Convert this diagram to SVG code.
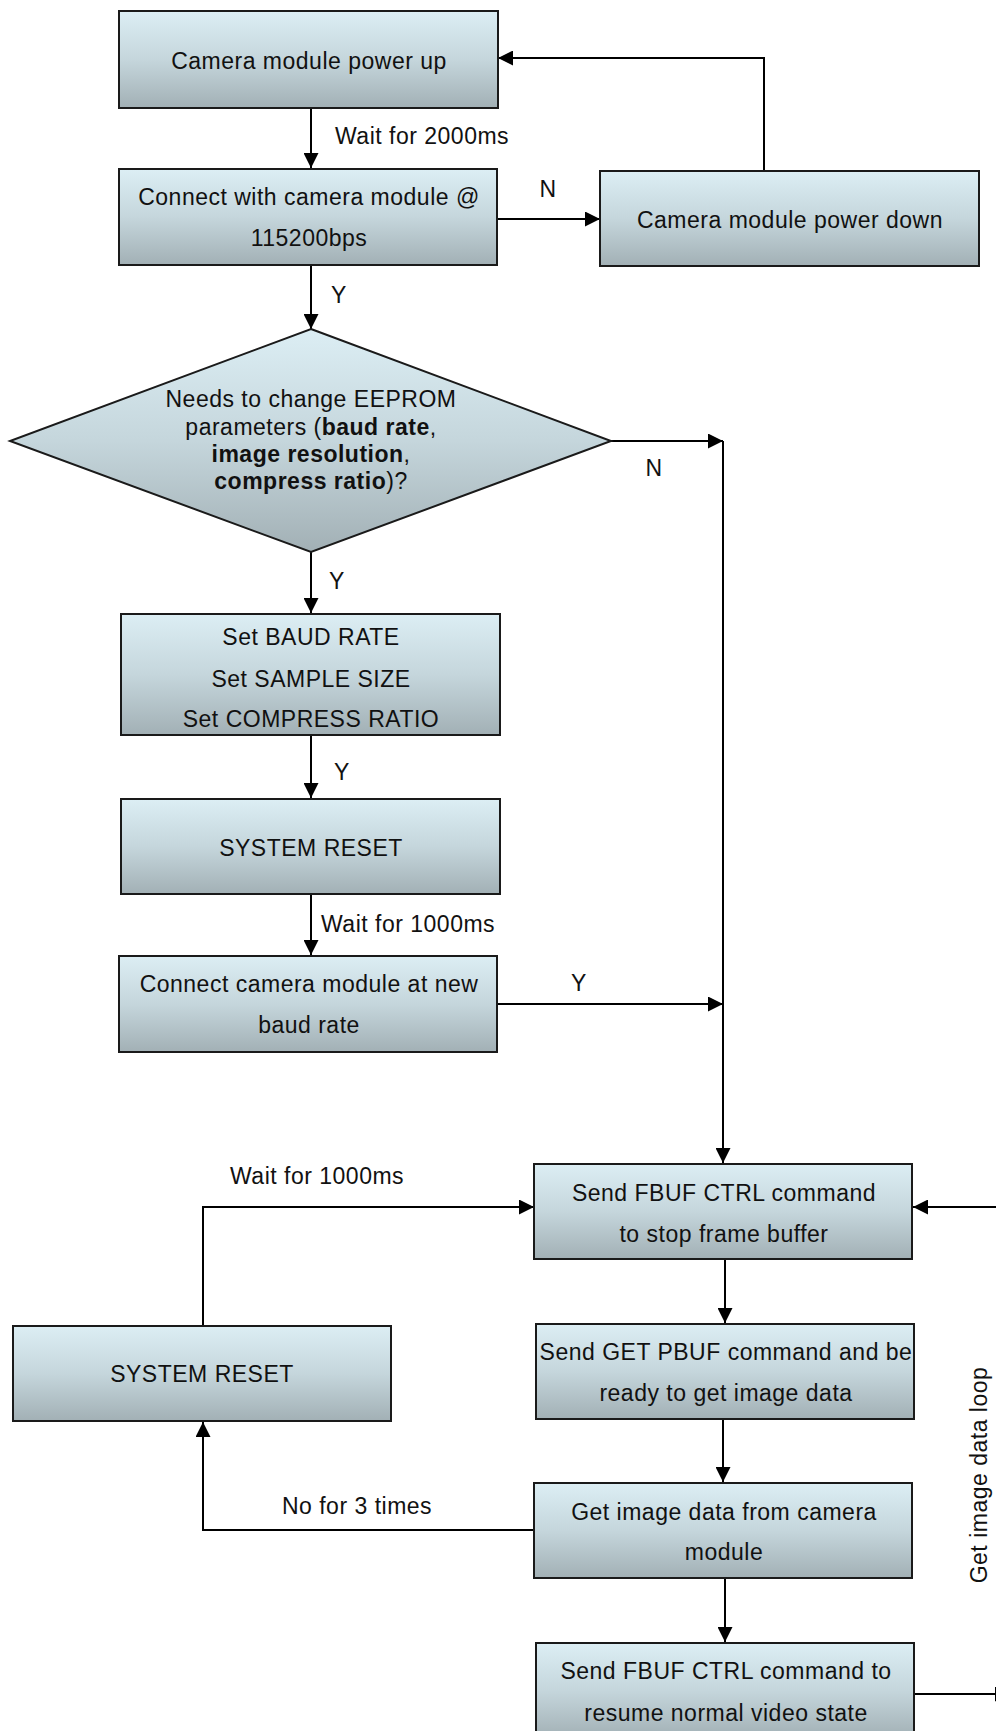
<svg xmlns="http://www.w3.org/2000/svg" width="996" height="1731" viewBox="0 0 996 1731">
<defs>
<linearGradient id="g" x1="0" y1="0" x2="0" y2="1">
<stop offset="0" stop-color="#dceef4"/>
<stop offset="0.5" stop-color="#c5d6dc"/>
<stop offset="1" stop-color="#a2b0b5"/>
</linearGradient>
<marker id="ah" viewBox="0 0 10 10" refX="10" refY="5" markerWidth="15" markerHeight="15" markerUnits="userSpaceOnUse" orient="auto">
<path d="M0,0 L10,5 L0,10 z" fill="#000"/>
</marker>
<style>
.box{fill:url(#g);stroke:#1a1a1a;stroke-width:2}
.t{font-family:"Liberation Sans",Arial,sans-serif;font-size:23px;letter-spacing:0.5px;fill:#111}
.c{text-anchor:middle}
.ln{fill:none;stroke:#000;stroke-width:2}
.arr{marker-end:url(#ah)}
</style>
</defs>
<rect width="996" height="1731" fill="#fff"/>

<g id="connectors">
<path class="ln arr" d="M311,108 V168"/>
<path class="ln arr" d="M497,219 H600"/>
<path class="ln arr" d="M764,171 V58 H498"/>
<path class="ln arr" d="M311,265 V329"/>
<path class="ln arr" d="M611,441 H723"/>
<path class="ln arr" d="M723,441 V1163"/>
<path class="ln arr" d="M311,552 V613"/>
<path class="ln arr" d="M311,735 V798"/>
<path class="ln arr" d="M311,894 V955"/>
<path class="ln arr" d="M497,1004 H723"/>
<path class="ln arr" d="M725,1259 V1323"/>
<path class="ln arr" d="M203,1326 V1207 H534"/>
<path class="ln arr" d="M1000,1207 H913"/>
<path class="ln arr" d="M723,1419 V1482"/>
<path class="ln arr" d="M534,1530 H203 V1422"/>
<path class="ln arr" d="M725,1578 V1642"/>
<path class="ln arr" d="M914,1694 H1010"/>
<text class="t" x="335" y="144">Wait for 2000ms</text>
<text class="t c" x="548" y="197">N</text>
<text class="t c" x="339" y="303">Y</text>
<text class="t c" x="654" y="476">N</text>
<text class="t c" x="337" y="589">Y</text>
<text class="t c" x="342" y="780">Y</text>
<text class="t" x="321" y="932">Wait for 1000ms</text>
<text class="t c" x="579" y="991">Y</text>
<text class="t" x="230" y="1184">Wait for 1000ms</text>
<text class="t c" x="357" y="1514">No for 3 times</text>
<text class="t c" transform="translate(987,1475) rotate(-90)" x="0" y="0">Get image data loop</text>
</g>

<g id="n1">
<rect class="box" x="119" y="11" width="379" height="97"/>
<text class="t c" x="309" y="69">Camera module power up</text>
</g>
<g id="n2">
<rect class="box" x="119" y="169" width="378" height="96"/>
<text class="t c" x="309" y="205">Connect with camera module @</text>
<text class="t c" x="309" y="246">115200bps</text>
</g>
<g id="n3">
<rect class="box" x="600" y="171" width="379" height="95"/>
<text class="t c" x="790" y="228">Camera module power down</text>
</g>
<g id="n4">
<polygon class="box" points="311,329 611,441 311,552 10,441"/>
<text class="t c" x="311" y="407">Needs to change EEPROM</text>
<text class="t c" x="311" y="435">parameters (<tspan font-weight="bold">baud rate</tspan>,</text>
<text class="t c" x="311" y="462"><tspan font-weight="bold">image resolution</tspan>,</text>
<text class="t c" x="311" y="489"><tspan font-weight="bold">compress ratio</tspan>)?</text>
</g>
<g id="n5">
<rect class="box" x="121" y="614" width="379" height="121"/>
<text class="t c" x="311" y="645">Set BAUD RATE</text>
<text class="t c" x="311" y="687">Set SAMPLE SIZE</text>
<text class="t c" x="311" y="727">Set COMPRESS RATIO</text>
</g>
<g id="n6">
<rect class="box" x="121" y="799" width="379" height="95"/>
<text class="t c" x="311" y="856">SYSTEM RESET</text>
</g>
<g id="n7">
<rect class="box" x="119" y="956" width="378" height="96"/>
<text class="t c" x="309" y="992">Connect camera module at new</text>
<text class="t c" x="309" y="1033">baud rate</text>
</g>
<g id="n8">
<rect class="box" x="534" y="1164" width="378" height="95"/>
<text class="t c" x="724" y="1201">Send FBUF CTRL command</text>
<text class="t c" x="724" y="1242">to stop frame buffer</text>
</g>
<g id="n9">
<rect class="box" x="536" y="1324" width="378" height="95"/>
<text class="t c" x="726" y="1360">Send GET PBUF command and be</text>
<text class="t c" x="726" y="1401">ready to get image data</text>
</g>
<g id="n10">
<rect class="box" x="13" y="1326" width="378" height="95"/>
<text class="t c" x="202" y="1382">SYSTEM RESET</text>
</g>
<g id="n11">
<rect class="box" x="534" y="1483" width="378" height="95"/>
<text class="t c" x="724" y="1520">Get image data from camera</text>
<text class="t c" x="724" y="1560">module</text>
</g>
<g id="n12">
<rect class="box" x="536" y="1643" width="378" height="95"/>
<text class="t c" x="726" y="1679">Send FBUF CTRL command to</text>
<text class="t c" x="726" y="1721">resume normal video state</text>
</g>
</svg>
